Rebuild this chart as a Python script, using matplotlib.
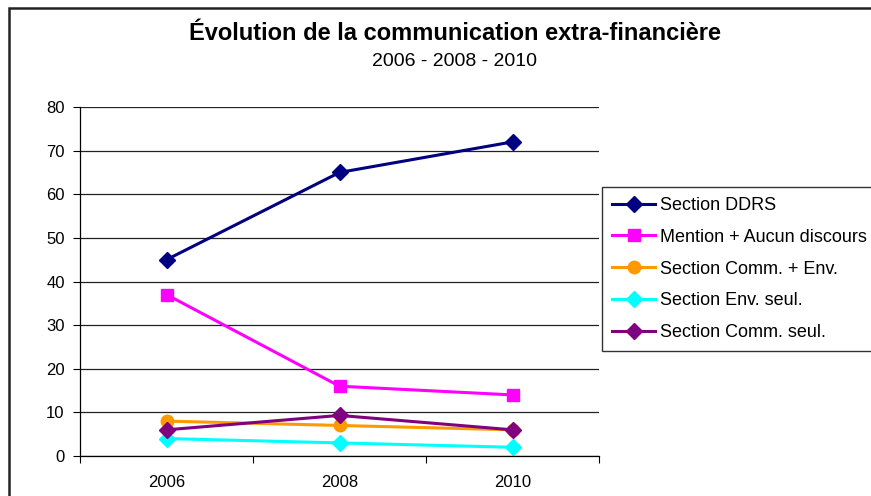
import matplotlib.pyplot as plt
from matplotlib.patches import Rectangle

plt.rcParams['font.family'] = ['Liberation Sans', 'DejaVu Sans']

# ------------------------------------------------------------
# Data
# ------------------------------------------------------------
years = ["2006", "2008", "2010"]

section_ddrs = [45, 65, 72]
mention_aucun = [37, 16, 14]
section_comm_env = [8, 7, 6]
section_env_seul = [4, 3, 2]
section_comm_seul = [6, 9.3, 6]

series = [
    ("Section DDRS", section_ddrs, "#000080", "D", 8),
    ("Mention + Aucun discours", mention_aucun, "#FF00FF", "s", 9),
    ("Section Comm. + Env.", section_comm_env, "#FF9900", "o", 9),
    ("Section Env. seul.", section_env_seul, "#00FFFF", "D", 8),
    ("Section Comm. seul.", section_comm_seul, "#800080", "D", 8),
]

fig = plt.figure(figsize=(8.71, 4.96), dpi=100)

# outer chart frame (cut off at right and bottom like the source)
fig.patches.append(Rectangle((9 / 871, -0.05), 1.0, 1 - 8 / 496 + 0.05,
                             transform=fig.transFigure, fill=False,
                             edgecolor="#222222", linewidth=1.8))

ax = fig.add_axes([80 / 871, 1 - 456 / 496, 519 / 871, 349 / 496])

x = range(len(years))
for label, values, color, marker, ms in series:
    ax.plot(x, values, color=color, marker=marker, markersize=ms,
            linewidth=2.2, label=label)

ax.set_xlim(-0.5, 2.5)
ax.set_ylim(0, 80)
ax.set_yticks(range(0, 81, 10))
ax.yaxis.grid(True, color="#222222", linewidth=0.9)
ax.set_axisbelow(True)

ax.set_xticks([-0.5, 0.5, 1.5, 2.5])
ax.set_xticklabels([])
ax.set_xticks(list(x), minor=True)
ax.set_xticklabels(years, minor=True)
ax.tick_params(axis="x", which="minor", length=0, pad=14, labelsize=12)
ax.tick_params(axis="x", which="major", length=5, direction="out")
ax.tick_params(axis="y", length=5, direction="out", labelsize=12, pad=6)

for side in ["top", "right"]:
    ax.spines[side].set_visible(False)
for side in ["left", "bottom"]:
    ax.spines[side].set_linewidth(0.9)

fig.text(455 / 871, 1 - 33 / 496, "Évolution de la communication extra-financière",
         ha="center", va="center", fontsize=17, fontweight="bold")
fig.text(455 / 871, 1 - 62 / 496, "2006 - 2008 - 2010",
         ha="center", va="center", fontsize=14)

leg = fig.legend(loc="upper left", bbox_to_anchor=(602 / 871, 1 - 187 / 496),
                 fontsize=13, frameon=True, fancybox=False, edgecolor="black",
                 handlelength=2.4, handletextpad=0.25, labelspacing=0.82,
                 borderpad=0.55, borderaxespad=0)
leg.get_frame().set_linewidth(1.0)

fig.savefig("out.png", dpi=100)
